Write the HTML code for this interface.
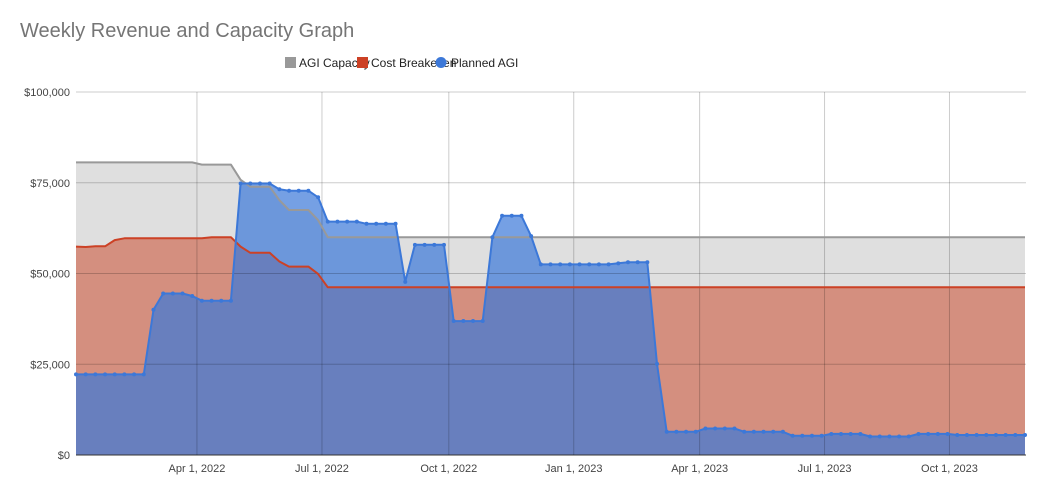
<!DOCTYPE html>
<html><head><meta charset="utf-8">
<style>
body{margin:0;background:#fff;width:1039px;height:489px;overflow:hidden;font-family:"Liberation Sans",Arial,sans-serif}
svg{display:block}
</style></head>
<body>
<svg id="chart" width="1039" height="489" xmlns="http://www.w3.org/2000/svg">
<text x="20" y="37" font-size="20" fill="#757575" font-family="Liberation Sans, Arial, sans-serif">Weekly Revenue and Capacity Graph</text>
<g font-size="12" fill="#222" font-family="Liberation Sans, Arial, sans-serif">
<rect x="285" y="57" width="11" height="11" fill="#999"/>
<text x="299" y="67">AGI Capacity</text>
<rect x="357" y="57" width="11" height="11" fill="#cc4125"/>
<text x="371" y="67">Cost Breakeven</text>
<circle cx="441" cy="62.5" r="5.5" fill="#3c78d8"/>
<text x="451" y="67">Planned AGI</text>
</g>
<g id="plot"></g>
</svg>
<script>
const capacity=[80.6,80.6,80.6,80.6,80.6,80.6,80.6,80.6,80.6,80.6,80.6,80.6,80.6,80.0,80.0,80.0,80.0,75.8,73.9,73.9,73.9,70.2,67.5,67.5,67.5,64.7,60,60,60,60,60,60,60,60,60,60,60,60,60,60,60,60,60,60,60,60,60,60,60,60,60,60,60,60,60,60,60,60,60,60,60,60,60,60,60,60,60,60,60,60,60,60,60,60,60,60,60,60,60,60,60,60,60,60,60,60,60,60,60,60,60,60,60,60,60,60,60,60,60];
const breakeven=[57.4,57.3,57.5,57.5,59.2,59.7,59.7,59.7,59.7,59.7,59.7,59.7,59.7,59.7,60.0,60.0,60.0,57.4,55.7,55.7,55.7,53.3,51.9,51.9,51.9,49.9,46.2,46.2,46.2,46.2,46.2,46.2,46.2,46.2,46.2,46.2,46.2,46.2,46.2,46.2,46.2,46.2,46.2,46.2,46.2,46.2,46.2,46.2,46.2,46.2,46.2,46.2,46.2,46.2,46.2,46.2,46.2,46.2,46.2,46.2,46.2,46.2,46.2,46.2,46.2,46.2,46.2,46.2,46.2,46.2,46.2,46.2,46.2,46.2,46.2,46.2,46.2,46.2,46.2,46.2,46.2,46.2,46.2,46.2,46.2,46.2,46.2,46.2,46.2,46.2,46.2,46.2,46.2,46.2,46.2,46.2,46.2,46.2,46.2];
const planned=[22.2,22.2,22.2,22.2,22.2,22.2,22.2,22.2,40.0,44.5,44.5,44.5,43.8,42.5,42.5,42.5,42.5,74.8,74.8,74.8,74.8,73.2,72.8,72.8,72.8,71.0,64.3,64.3,64.3,64.3,63.7,63.7,63.7,63.7,47.7,57.9,57.9,57.9,57.9,36.9,36.9,36.9,36.9,60.0,65.9,65.9,65.9,60.3,52.5,52.5,52.5,52.5,52.5,52.5,52.5,52.5,52.8,53.1,53.1,53.1,25.1,6.4,6.4,6.4,6.4,7.3,7.3,7.3,7.3,6.4,6.4,6.4,6.4,6.4,5.3,5.3,5.3,5.3,5.8,5.8,5.8,5.8,5.1,5.1,5.1,5.1,5.1,5.8,5.8,5.8,5.8,5.5,5.5,5.5,5.5,5.5,5.5,5.5,5.5];
const yTicks=[0,25,50,75,100];
const yTickLabels=["$0","$25,000","$50,000","$75,000","$100,000"];
const xTickWeeks=[12.49,25.4,38.5,51.4,64.4,77.3,90.2];
const xTickLabels=["Apr 1, 2022","Jul 1, 2022","Oct 1, 2022","Jan 1, 2023","Apr 1, 2023","Jul 1, 2023","Oct 1, 2023"];

const NS="http://www.w3.org/2000/svg";
const X0=76,X1=1025,Y0=455,Y1=92,YMAX=100;
const n=planned.length;
const xs=i=>X0+i*(X1-X0)/(n-1);
const ys=v=>Y0-(v/YMAX)*(Y0-Y1);
const plot=document.getElementById('plot');
function mk(tag,attrs){const e=document.createElementNS(NS,tag);for(const k in attrs)e.setAttribute(k,attrs[k]);plot.appendChild(e);return e;}
function linePts(arr){return arr.map((v,i)=>xs(i).toFixed(1)+','+ys(v).toFixed(1)).join(' ');}
function areaPts(arr){return xs(0)+','+Y0+' '+linePts(arr)+' '+xs(n-1)+','+Y0;}

// areas
let a=mk('polygon',{points:areaPts(capacity),fill:'#dfdfdf'});


a=mk('polygon',{points:areaPts(breakeven),fill:'#d48f7f'});


a=mk('polygon',{points:areaPts(planned),fill:'#3a78d8','fill-opacity':'0.7'});



// grid
yTicks.forEach((t,i)=>{
  const y=ys(t);
  const g=mk('line',{x1:X0,x2:X1+1,y1:y,y2:y,stroke:i===0?'#333':'rgba(0,0,0,0.2)','stroke-width':1});
  
  
  const l=mk('text',{x:70,y:y+4,'text-anchor':'end','font-size':11,fill:'#444','font-family':'Liberation Sans, Arial, sans-serif'});
  l.textContent=yTickLabels[i];
  
  
});
xTickWeeks.forEach((w,i)=>{
  const x=xs(w);
  const g=mk('line',{x1:x,x2:x,y1:Y1,y2:Y0,stroke:'rgba(0,0,0,0.2)','stroke-width':1});
  
  
  const l=mk('text',{x:x,y:472,'text-anchor':'middle','font-size':11,fill:'#444','font-family':'Liberation Sans, Arial, sans-serif'});
  l.textContent=xTickLabels[i];
  
  
});

// lines
let ln=mk('polyline',{points:linePts(capacity),fill:'none',stroke:'#999','stroke-width':2,'stroke-linejoin':'round'});


ln=mk('polyline',{points:linePts(breakeven),fill:'none',stroke:'#cc4125','stroke-width':2,'stroke-linejoin':'round'});


ln=mk('polyline',{points:linePts(planned),fill:'none',stroke:'#3c78d8','stroke-width':2,'stroke-linejoin':'round'});


planned.forEach((v,i)=>{
  const c=mk('circle',{cx:xs(i),cy:ys(v),r:2,fill:'#3c78d8'});
  
  
});
</script>
</body></html>
